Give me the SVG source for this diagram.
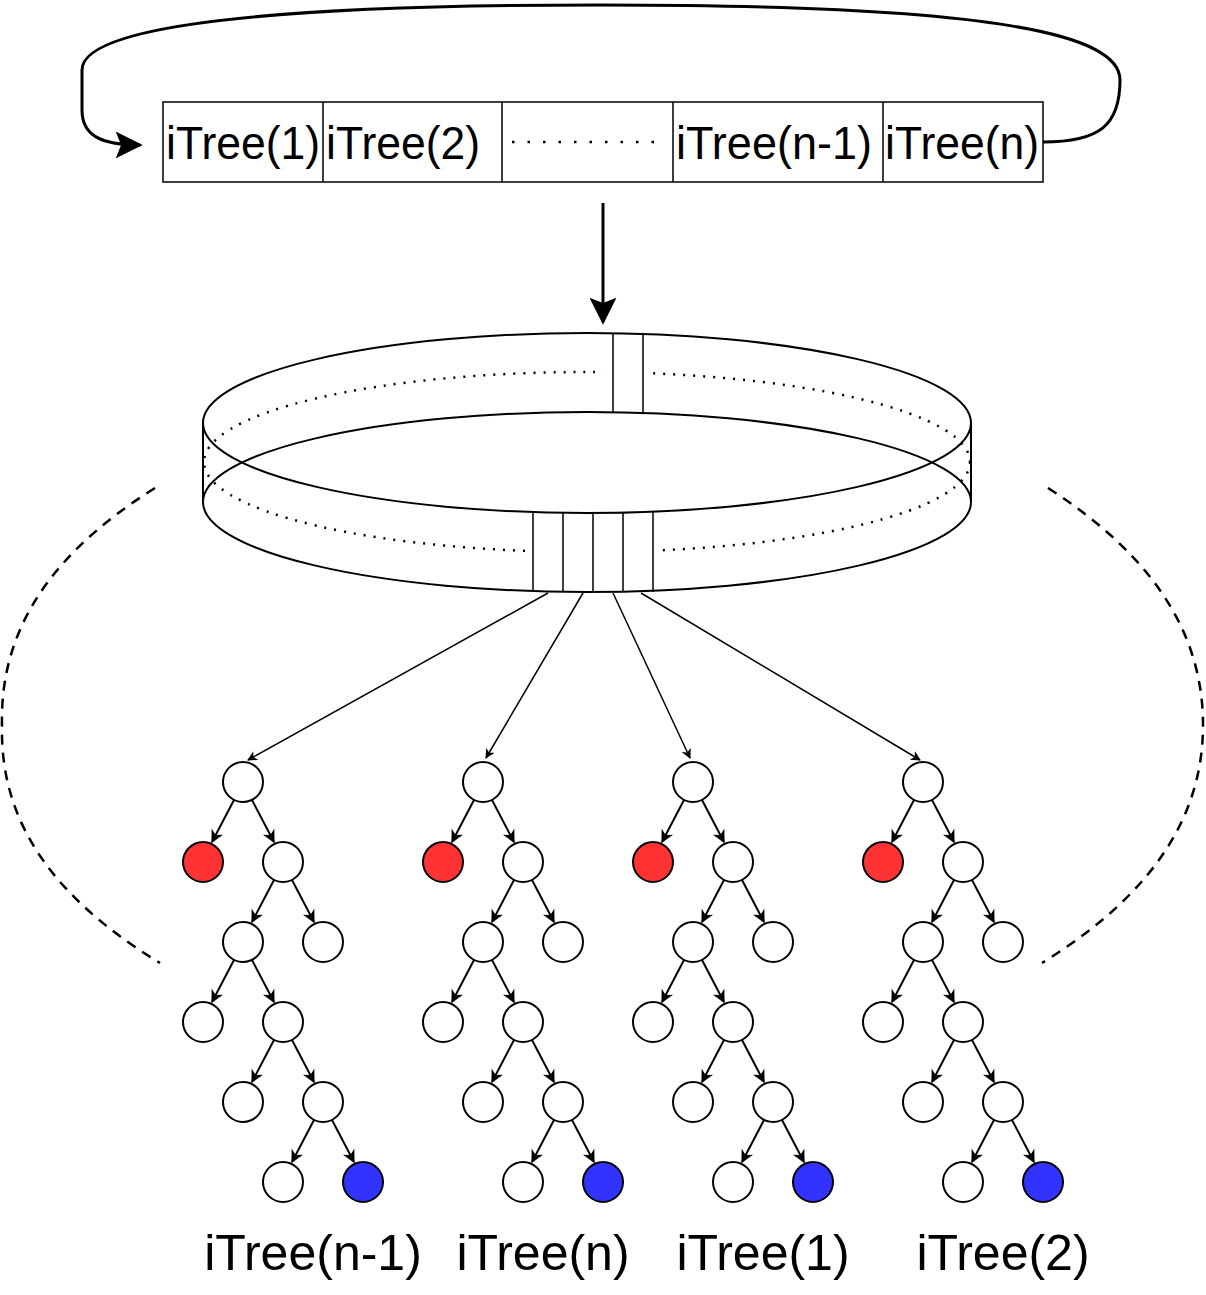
<svg xmlns="http://www.w3.org/2000/svg" xmlns:xlink="http://www.w3.org/1999/xlink" width="1206" height="1295" viewBox="0 0 1206 1295">
<style>
.t{font-family:"Liberation Sans",Arial,sans-serif;fill:#000}
.b{fill:#fff;stroke:#000;stroke-width:1.5}
.n{fill:#fff;stroke:#000;stroke-width:2}
.e{stroke:#000;stroke-width:1.5;fill:none;marker-end:url(#a)}
.f{stroke:#000;stroke-width:2;fill:none;marker-end:url(#c)}
</style>
<defs>
<marker id="a" viewBox="0 0 10 10" refX="9" refY="5" markerWidth="10" markerHeight="10" markerUnits="userSpaceOnUse" orient="auto"><path d="M0,0 L10,5 L0,10 L3,5 Z" fill="#000"/></marker>
<marker id="c" viewBox="0 0 10 10" refX="9" refY="5" markerWidth="13" markerHeight="13" markerUnits="userSpaceOnUse" orient="auto"><path d="M0,0 L10,5 L0,10 L3,5 Z" fill="#000"/></marker>
<marker id="big" viewBox="0 0 10 10" refX="9" refY="5" markerWidth="9" markerHeight="9" orient="auto"><path d="M0,0 L10,5 L0,10 L2,5 Z" fill="#000"/></marker>
<g id="tree">
<circle class="n" cx="243" cy="782" r="20"/>
<circle cx="203" cy="862" r="20" fill="#ff3333" stroke="#000" stroke-width="2"/>
<circle class="n" cx="283" cy="862" r="20"/>
<circle class="n" cx="243" cy="942" r="20"/>
<circle class="n" cx="323" cy="942" r="20"/>
<circle class="n" cx="203" cy="1022" r="20"/>
<circle class="n" cx="283" cy="1022" r="20"/>
<circle class="n" cx="243" cy="1102" r="20"/>
<circle class="n" cx="323" cy="1102" r="20"/>
<circle class="n" cx="283" cy="1182" r="20"/>
<circle cx="363" cy="1182" r="20" fill="#3333ff" stroke="#000" stroke-width="2"/>
<path class="f" d="M234,800 L212,842"/><path class="f" d="M252,800 L274,842"/>
<path class="f" d="M274,880 L252,922"/><path class="f" d="M292,880 L314,922"/>
<path class="f" d="M234,960 L212,1002"/><path class="f" d="M252,960 L274,1002"/>
<path class="f" d="M274,1040 L252,1082"/><path class="f" d="M292,1040 L314,1082"/>
<path class="f" d="M314,1120 L292,1162"/><path class="f" d="M332,1120 L354,1162"/>
</g>
</defs>
<g id="bar">
<rect class="b" x="163" y="102" width="880" height="80"/>
<path d="M323,102V182M502,102V182M673,102V182M883,102V182" stroke="#000" stroke-width="1.5"/>
<text class="t" font-size="46" text-anchor="middle" x="243" y="159" textLength="154" lengthAdjust="spacingAndGlyphs">iTree(1)</text>
<text class="t" font-size="46" text-anchor="middle" x="403" y="159" textLength="154" lengthAdjust="spacingAndGlyphs">iTree(2)</text>
<text class="t" font-size="46" text-anchor="middle" x="774" y="159" textLength="196" lengthAdjust="spacingAndGlyphs">iTree(n-1)</text>
<text class="t" font-size="46" text-anchor="middle" x="962" y="159" textLength="154" lengthAdjust="spacingAndGlyphs">iTree(n)</text>
<path d="M512,142H662" stroke="#000" stroke-width="2.5" stroke-dasharray="2.5,13"/>
</g>
<g id="connectors" fill="none" stroke="#000">
<path d="M1043,142 C1100,142 1120,125 1120,80 C1120,35 1000,5 600,5 C200,5 82,35 82,70 L82,110 C82,135 100,145 140,145" stroke-width="3" marker-end="url(#big)"/>
<path d="M603,203 V322" stroke-width="3" marker-end="url(#big)"/>
<path d="M155,488 C40,560 0,640 2,725 C0,810 40,890 160,963" stroke-width="2.5" stroke-dasharray="10,8"/>
<path d="M1048,488 C1160,560 1203,640 1203,725 C1203,810 1160,890 1042,963" stroke-width="2.5" stroke-dasharray="10,8"/>
<path class="e" d="M548,593 L248,760"/>
<path class="e" d="M583,593 L486,758"/>
<path class="e" d="M613,593 L690,758"/>
<path class="e" d="M641,593 L920,760"/>
</g>
<g id="ring">
<ellipse cx="587" cy="462" rx="383" ry="90" fill="none" stroke="#000" stroke-width="2.5" stroke-dasharray="2,8"/>
<rect x="603" y="360" width="49" height="25" fill="#fff"/>
<rect x="525" y="540" width="137" height="25" fill="#fff"/>
<ellipse cx="587" cy="423" rx="384" ry="90" fill="none" stroke="#000" stroke-width="2"/>
<ellipse cx="587" cy="502" rx="384" ry="90" fill="none" stroke="#000" stroke-width="2"/>
<path d="M203,423V502M971,423V502" stroke="#000" stroke-width="2"/>
<path d="M613,333V413M643,333V413" stroke="#000" stroke-width="1.5"/>
<path d="M533,512V592M563,512V592M593,512V592M623,512V592M653,512V592" stroke="#000" stroke-width="1.5"/>
</g>
<g id="tree1"><use xlink:href="#tree"/></g>
<g id="tree2"><use xlink:href="#tree" x="240"/></g>
<g id="tree3"><use xlink:href="#tree" x="450"/></g>
<g id="tree4"><use xlink:href="#tree" x="680"/></g>
<g id="labels">
<text class="t" font-size="50" text-anchor="middle" x="313" y="1270">iTree(n-1)</text>
<text class="t" font-size="50" text-anchor="middle" x="543" y="1270">iTree(n)</text>
<text class="t" font-size="50" text-anchor="middle" x="763" y="1270">iTree(1)</text>
<text class="t" font-size="50" text-anchor="middle" x="1003" y="1270">iTree(2)</text>
</g>
</svg>
